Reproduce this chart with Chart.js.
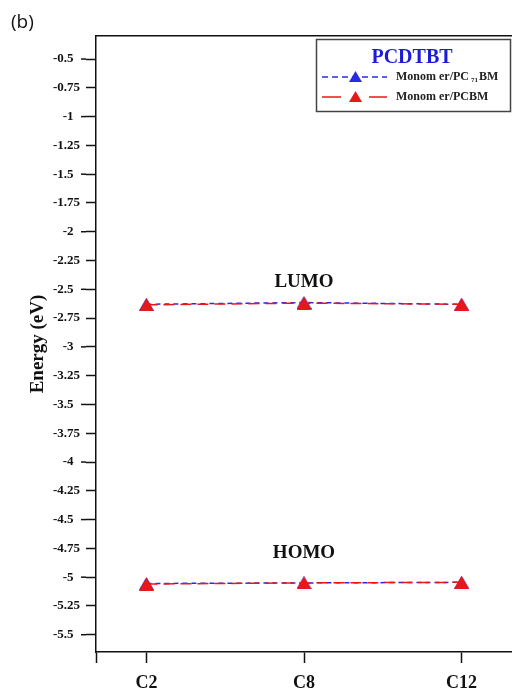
<!DOCTYPE html>
<html>
<head>
<meta charset="utf-8">
<script src="https://cdn.jsdelivr.net/npm/chart.js@4.4.1/dist/chart.umd.min.js"></script>
<style>
    html, body { margin: 0; padding: 0; background: #fff; }
    #wrap { position: relative; width: 512px; height: 693px; }
</style>
</head>
<body>
<div id="wrap"><canvas id="chart"></canvas></div>
<script>
const categories = ['C2', 'C8', 'C12'];

// energy levels (eV)
const lumoPC71BM = [-2.63, -2.615, -2.63];
const lumoPCBM = [-2.635, -2.62, -2.63];
const homoPC71BM = [-5.055, -5.05, -5.045];
const homoPCBM = [-5.06, -5.05, -5.045];

const yTicks = [-0.5, -0.75, -1, -1.25, -1.5, -1.75, -2, -2.25, -2.5, -2.75, -3, -3.25,
    -3.5, -3.75, -4, -4.25, -4.5, -4.75, -5, -5.25, -5.5];
const levelLabels = [
    { text: 'LUMO', y: -2.44 },
    { text: 'HOMO', y: -4.79 }
];

const serif = '"Liberation Serif", "Times New Roman", serif';
const blue = '#2a2ae0';
const red = '#e81818';
const xMin = -0.32;
const xMax = 2.32;

const toPoints = (arr) => arr.map((v, i) => ({ x: i, y: v }));
const isHalf = (v) => Math.abs(v * 2 - Math.round(v * 2)) < 1e-6;

// triangle marker centred on its bounding box
function triangle(color, w, h) {
    const c = document.createElement('canvas');
    c.width = w;
    c.height = h;
    const g = c.getContext('2d');
    g.fillStyle = color;
    g.beginPath();
    g.moveTo(w / 2, 0);
    g.lineTo(w, h);
    g.lineTo(0, h);
    g.closePath();
    g.fill();
    return c;
}

const blueTri = triangle(blue, 15, 13);
const redTri = triangle(red, 15, 13);
const blueTriSmall = triangle(blue, 13, 11);
const redTriSmall = triangle(red, 13, 11);

function blueSet(data) {
    return {
        label: 'Monomer/PC71BM',
        data: toPoints(data),
        borderColor: blue,
        backgroundColor: blue,
        borderWidth: 1.5,
        borderDash: [5, 4],
        pointStyle: blueTri,
        order: 1
    };
}

function redSet(data) {
    return {
        label: 'Monomer/PCBM',
        data: toPoints(data),
        borderColor: red,
        backgroundColor: red,
        borderWidth: 1.5,
        borderDash: [11, 6],
        pointStyle: redTri,
        order: 0
    };
}

// legend box, panel tag and level names
const annotations = {
    id: 'annotations',
    afterDraw(chart) {
        const { ctx, scales } = chart;
        ctx.save();

        ctx.fillStyle = '#111';
        ctx.font = '19px "Open Sans", "Liberation Sans", sans-serif';
        ctx.textAlign = 'left';
        ctx.textBaseline = 'middle';
        ctx.fillText('(b)', 11, 23);

        ctx.font = 'bold 19px ' + serif;
        ctx.textAlign = 'center';
        levelLabels.forEach(l => {
            ctx.fillText(l.text, scales.x.getPixelForValue(1), scales.y.getPixelForValue(l.y));
        });

        // legend
        ctx.fillStyle = '#fff';
        ctx.fillRect(316, 39, 195, 73);
        ctx.strokeStyle = '#444';
        ctx.lineWidth = 1.5;
        ctx.strokeRect(316.5, 39.5, 194, 72);

        ctx.fillStyle = '#1c1cd8';
        ctx.font = 'bold 20px ' + serif;
        ctx.fillText('PCDTBT', 412, 58);

        ctx.lineWidth = 1.5;
        ctx.strokeStyle = blue;
        ctx.setLineDash([6, 4]);
        ctx.beginPath();
        ctx.moveTo(322, 77);
        ctx.lineTo(387, 77);
        ctx.stroke();
        ctx.setLineDash([]);
        ctx.drawImage(blueTriSmall, 349, 71);

        ctx.strokeStyle = red;
        ctx.beginPath();
        ctx.moveTo(322, 97);
        ctx.lineTo(341, 97);
        ctx.moveTo(369, 97);
        ctx.lineTo(387, 97);
        ctx.stroke();
        ctx.drawImage(redTriSmall, 349, 91);

        ctx.fillStyle = '#222';
        ctx.textAlign = 'left';
        ctx.font = 'bold 12px ' + serif;
        let x = 396;
        ctx.fillText('Monom er/PC', x, 77);
        x += ctx.measureText('Monom er/PC').width + 2;
        ctx.font = 'bold 7px ' + serif;
        ctx.fillText('71', x, 80);
        x += ctx.measureText('71').width + 1;
        ctx.font = 'bold 12px ' + serif;
        ctx.fillText('BM', x, 77);
        ctx.fillText('Monom er/PCBM', 396, 97);

        // longer marks on the half-unit ticks
        ctx.strokeStyle = '#111';
        ctx.lineWidth = 1.5;
        const left = scales.y.right - 10;
        yTicks.filter(isHalf).forEach(v => {
            const py = scales.y.getPixelForValue(v);
            ctx.beginPath();
            ctx.moveTo(left - 5, py);
            ctx.lineTo(left, py);
            ctx.stroke();
        });

        ctx.restore();
    }
};

const ctx = document.getElementById('chart');

const chart = new Chart(ctx, {
    type: 'line',
    data: {
        datasets: [
            blueSet(lumoPC71BM),
            redSet(lumoPCBM),
            blueSet(homoPC71BM),
            redSet(homoPCBM)
        ]
    },
    options: {
        responsive: true,
        maintainAspectRatio: false,
        animation: false,
        devicePixelRatio: 1,
        layout: { padding: 0, autoPadding: false },
        plugins: {
            legend: { display: false },
            tooltip: { enabled: false }
        },
        scales: {
            x: {
                type: 'linear',
                min: xMin,
                max: xMax,
                afterBuildTicks: (scale) => {
                    scale.ticks = [xMin, 0, 1, 2].map(v => ({ value: v }));
                },
                afterFit: (scale) => { scale.height = 41; },
                grid: {
                    drawOnChartArea: false,
                    tickLength: 11,
                    tickWidth: 1.5,
                    tickColor: '#111'
                },
                border: { display: true, color: '#111', width: 1.5 },
                ticks: {
                    color: '#111',
                    padding: 10,
                    maxRotation: 0,
                    autoSkip: false,
                    font: { family: serif, weight: 'bold', size: 18 },
                    callback: (v) => categories[v] ?? ''
                }
            },
            xTop: {
                type: 'linear',
                position: 'top',
                min: xMin,
                max: xMax,
                afterFit: (scale) => { scale.height = 36; },
                grid: { display: false, drawTicks: false },
                border: { display: true, color: '#111', width: 1.5 },
                ticks: { display: false }
            },
            y: {
                type: 'linear',
                min: -5.65,
                max: -0.3,
                afterBuildTicks: (scale) => {
                    scale.ticks = yTicks.map(v => ({ value: v }));
                },
                afterFit: (scale) => { scale.width = 96; },
                grid: {
                    drawOnChartArea: false,
                    tickLength: 10,
                    tickWidth: 1.5,
                    tickColor: '#111'
                },
                border: { display: true, color: '#111', width: 1.5 },
                title: {
                    display: true,
                    text: 'Energy (eV)',
                    color: '#111',
                    font: { family: serif, weight: 'bold', size: 19 },
                    padding: { top: 27, bottom: 0 }
                },
                ticks: {
                    color: '#111',
                    padding: 6,
                    autoSkip: false,
                    font: { family: serif, weight: 'bold', size: 13 },
                    // half-unit labels sit clear of their longer tick
                    callback: (v) => isHalf(v) ? String(v) + '\u2002' : String(v)
                }
            }
        }
    },
    plugins: [annotations]
});
</script>
</body>
</html>
